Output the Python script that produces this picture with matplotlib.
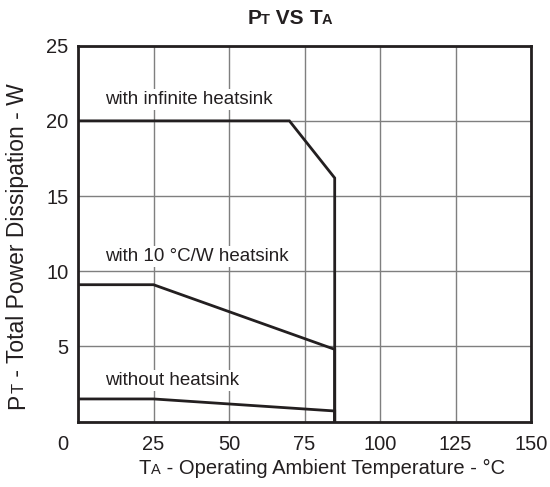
import matplotlib
matplotlib.use("Agg")
import matplotlib.pyplot as plt
from matplotlib.transforms import ScaledTranslation

plt.rcParams["font.family"] = ["Liberation Sans", "DejaVu Sans"]

# curve data
infinite_t = [0, 70, 85, 85]
infinite_p = [20, 20, 16.2, 0]
sink10_t = [0, 25, 85, 85]
sink10_p = [9.1, 9.1, 4.8, 0]
nosink_t = [0, 25, 85, 85]
nosink_p = [1.5, 1.5, 0.7, 0]

x_ticks = [0, 25, 50, 75, 100, 125, 150]
y_ticks = [0, 5, 10, 15, 20, 25]
y_tick_labels = ["", "5", "10", "15", "20", "25"]

labels = [
    ("with infinite heatsink", 9, 21.4),
    ("with 10 \u00b0C/W heatsink", 9, 11.0),
    ("without heatsink", 9, 2.75),
]

LINE_COLOR = "#231f20"
W, H = 550, 487


def draw_pieces(fig, cx, cy, pieces, weight="normal", rotation=0):
    """Place text pieces of mixed sizes on one baseline, centred on (cx, cy) px."""
    renderer = fig.canvas.get_renderer()
    widths = []
    for s, size in pieces:
        t = fig.text(0, 0, s, fontsize=size, fontweight=weight)
        widths.append(t.get_window_extent(renderer).width)
        t.remove()
    pos = -sum(widths) / 2
    for (s, size), w in zip(pieces, widths):
        if rotation == 0:
            x, y = cx + pos, cy
        else:
            x, y = cx, cy + pos
        fig.text(x / W, y / H, s, fontsize=size, fontweight=weight,
                 ha="left", va="baseline", rotation=rotation,
                 rotation_mode="anchor", color=LINE_COLOR)
        pos += w


fig = plt.figure(figsize=(5.5, 4.87), dpi=100)
ax = fig.add_axes([78 / W, 1 - 421.5 / H, (531 - 78) / W, (421.5 - 45.7) / H])

for t, p in [(infinite_t, infinite_p), (sink10_t, sink10_p), (nosink_t, nosink_p)]:
    ax.plot(t, p, color=LINE_COLOR, lw=2.0, solid_joinstyle="miter", zorder=4)

for text, x, y in labels:
    ax.text(x, y, text, fontsize=13.5, color=LINE_COLOR, ha="left", va="center",
            zorder=3, bbox=dict(facecolor="white", edgecolor="none", pad=1.5))

ax.set_xlim(0, 150)
ax.set_ylim(0, 25)
ax.set_xticks(x_ticks)
ax.set_yticks(y_ticks, y_tick_labels)
ax.tick_params(length=0, labelsize=14.5, colors=LINE_COLOR)
ax.tick_params(axis="x", pad=10)
ax.tick_params(axis="y", pad=7)
# the shared corner "0" sits left of the origin
zero = ax.get_xticklabels()[0]
zero.set_transform(zero.get_transform() + ScaledTranslation(-15 / 100, 0, fig.dpi_scale_trans))

ax.grid(True, color="#7f7f7f", lw=1.0, zorder=1)
ax.set_axisbelow(True)
for sp in ax.spines.values():
    sp.set_linewidth(2.0)
    sp.set_color(LINE_COLOR)

fig.canvas.draw()
draw_pieces(fig, 290, H - 24, [("P", 15), ("T", 10.5), (" VS ", 15), ("T", 15), ("A", 10.5)],
            weight="bold")
draw_pieces(fig, 322, H - 474, [("T", 14.5), ("A", 10.5),
                                 (" - Operating Ambient Temperature - \u00b0C", 14.5)])
draw_pieces(fig, 24, H - 246, [("P", 16.5), ("T", 12),
                               (" - Total Power Dissipation - W", 16.5)], rotation=90)

fig.savefig("out.png", dpi=100, facecolor="white")
